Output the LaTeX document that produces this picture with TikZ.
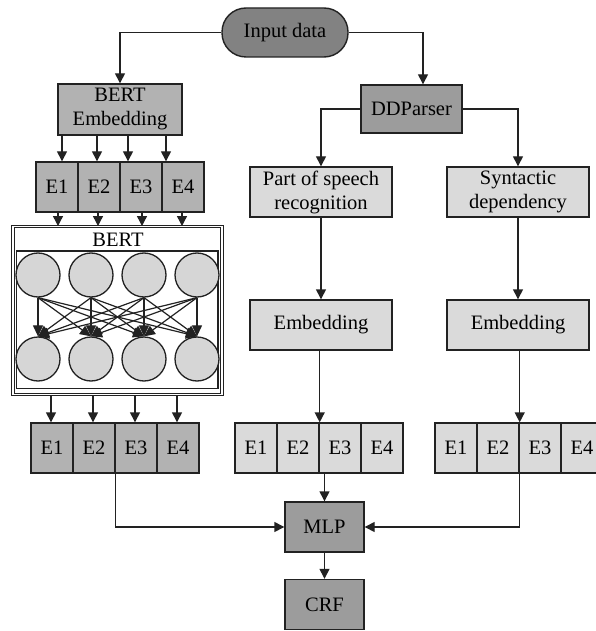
\documentclass[tikz,border=0pt]{standalone}
\usepackage{fontspec}
\setmainfont{Liberation Serif}
\usetikzlibrary{arrows.meta}

\definecolor{inkline}{HTML}{222222}
\definecolor{ginput}{HTML}{828282}
\definecolor{gdark}{HTML}{9C9C9C}
\definecolor{gmid}{HTML}{B2B2B2}
\definecolor{glight}{HTML}{DADADA}
\definecolor{gcircle}{HTML}{D6D6D6}

\tikzset{
  blk/.style={draw=inkline, line width=1.4pt, inner sep=0pt, align=center,
    font=\fontsize{20.5}{24}\selectfont},
  inputbox/.style={blk, fill=ginput, rounded corners=24pt},
  darkbox/.style={blk, fill=gdark},
  midbox/.style={blk, fill=gmid},
  lightbox/.style={blk, fill=glight},
  ecell/.style={minimum width=42pt, minimum height=50pt},
  neuron/.style={circle, draw=inkline, line width=1.3pt, fill=gcircle,
    minimum size=44pt, inner sep=0pt},
  link/.style={draw=inkline, line width=1.4pt},
  arr/.style={link, -{Triangle[length=10pt,width=10pt]}},
  narr/.style={draw=inkline, line width=1.2pt, -{Triangle[length=11pt,width=10pt]}},
}

\begin{document}
\begin{tikzpicture}[x=1pt,y=-1pt]
\useasboundingbox (0,0) rectangle (595,631);

% input and parser
\node[inputbox, minimum width=126pt, minimum height=49pt] (inp) at (285,32.5) {Input data};
\node[darkbox, minimum width=101pt, minimum height=48pt] (ddp) at (411.5,109) {DDParser};

% BERT branch
\node[midbox, minimum width=124pt, minimum height=51pt] (bemb) at (120,109.5) {BERT\\Embedding};
\foreach \x [count=\i] in {57,99,141,183}
  \node[midbox, ecell] (ta\i) at (\x,187) {E\i};

\node[draw=inkline, line width=1pt, double, double distance=1.3pt,
  minimum width=209pt, minimum height=168pt, inner sep=0pt] (bertbox) at (117.5,310.5) {};
\node[font=\fontsize{20.5}{24}\selectfont, inner sep=0pt] (bertlbl) at (118,240) {BERT};
\node[draw=inkline, line width=1.3pt, minimum width=201.5pt, minimum height=137.5pt,
  inner sep=0pt] (bertin) at (117.25,319.75) {};

\foreach \x [count=\i] in {38,91,144,197} {
  \node[neuron] (t\i) at (\x,275) {};
  \node[neuron] (b\i) at (\x,359) {};
}
\foreach \i in {1,...,4}
  \foreach \j in {1,...,4}
    \draw[narr] (t\i.south) -- (b\j.north);

\foreach \x [count=\i] in {52,94,136,178}
  \node[midbox, ecell] (tb\i) at (\x,448) {E\i};

% POS and syntax branches
\node[lightbox, minimum width=142pt, minimum height=50pt] (pos) at (321,192) {Part of speech\\recognition};
\node[lightbox, minimum width=142pt, minimum height=50pt] (syn) at (518,192) {Syntactic\\dependency};
\node[lightbox, minimum width=142pt, minimum height=50pt] (pemb) at (321,325) {Embedding};
\node[lightbox, minimum width=142pt, minimum height=50pt] (semb) at (518,325) {Embedding};

\foreach \x [count=\i] in {256,298,340,382}
  \node[lightbox, ecell] (pe\i) at (\x,448) {E\i};
\foreach \x [count=\i] in {456,498,540,582}
  \node[lightbox, ecell] (se\i) at (\x,448) {E\i};

% output
\node[darkbox, minimum width=79pt, minimum height=50pt] (mlp) at (324.5,527) {MLP};
\node[darkbox, minimum width=79pt, minimum height=50pt] (crf) at (324.5,604.5) {CRF};

% connectors
\coordinate (ddin) at (423,0);
\draw[arr] (inp.west) -| (bemb.north);
\draw[arr] (inp.east) -| (ddin |- ddp.north);
\draw[arr] (ddp.west) -| (pos.north);
\draw[arr] (ddp.east) -| (syn.north);

\foreach \x [count=\i] in {62,97,128,166} {
  \coordinate (ea\i) at (\x,0);
  \draw[arr] (ea\i |- bemb.south) -- (ea\i |- ta\i.north);
}
\foreach \x [count=\i] in {58,98,142,182} {
  \coordinate (eb\i) at (\x,0);
  \draw[arr] (eb\i |- ta\i.south) -- (eb\i |- bertbox.north);
}
\foreach \x [count=\i] in {51,93,135,177} {
  \coordinate (ec\i) at (\x,0);
  \draw[arr] (ec\i |- bertbox.south) -- (ec\i |- tb\i.north);
}

\draw[arr] (pos.south) -- (pemb.north);
\draw[arr] (syn.south) -- (semb.north);
\draw[arr] (pe2.north east |- pemb.south) -- (pe2.north east);
\draw[arr] (se2.north east |- semb.south) -- (se2.north east);

\draw[arr] (tb2.south east) |- (mlp.west);
\draw[arr] (se2.south east) |- (mlp.east);
\draw[arr] (mlp.north |- pe3.south) -- (mlp.north);
\draw[arr] (mlp.south) -- (crf.north);
\end{tikzpicture}
\end{document}
